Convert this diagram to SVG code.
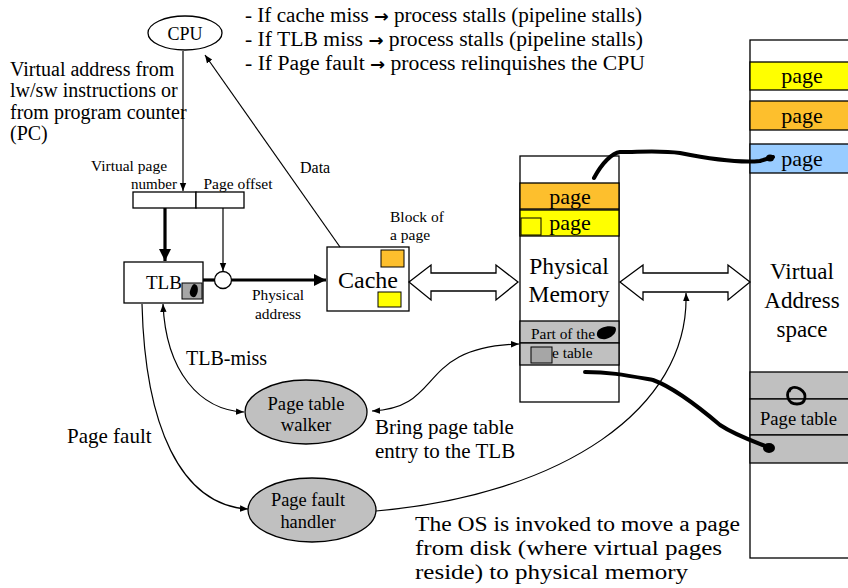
<svg xmlns="http://www.w3.org/2000/svg" width="848" height="588" viewBox="0 0 848 588">
<defs>
<style>
text{font-family:"Liberation Serif","Times New Roman",serif;fill:#000}
.ar{font-family:"DejaVu Sans",sans-serif;font-weight:bold;font-size:17px}
.box{fill:#fff;stroke:#000;stroke-width:1.3}
.ln{fill:none;stroke:#000;stroke-width:1.2}
.thick{fill:none;stroke:#000;stroke-width:3.2}
.hand{fill:none;stroke:#000;stroke-width:4;stroke-linecap:round;stroke-linejoin:round}
.gray{fill:#c0c0c0;stroke:#000;stroke-width:1.3}
.dbl{fill:#fff;stroke:#000;stroke-width:1.3}
</style>
<marker id="a" viewBox="0 0 10 10" refX="10" refY="5" markerWidth="8" markerHeight="8" orient="auto-start-reverse" markerUnits="userSpaceOnUse"><path d="M0,1 L10,5 L0,9 Z" fill="#000"/></marker>
<marker id="ab" viewBox="0 0 10 10" refX="10" refY="5" markerWidth="12" markerHeight="12" orient="auto" markerUnits="userSpaceOnUse"><path d="M0,0 L10,5 L0,10 Z" fill="#000"/></marker>
</defs>
<rect width="848" height="588" fill="#fff"/>

<g id="notes" font-size="20.5">
<text x="245" y="22" textLength="397" lengthAdjust="spacingAndGlyphs">- If cache miss <tspan class="ar">→</tspan> process stalls (pipeline stalls)</text>
<text x="245" y="46" textLength="398" lengthAdjust="spacingAndGlyphs">- If TLB miss <tspan class="ar">→</tspan> process stalls (pipeline stalls)</text>
<text x="245" y="70" textLength="400" lengthAdjust="spacingAndGlyphs">- If Page fault <tspan class="ar">→</tspan> process relinquishes the CPU</text>
</g>

<g id="va-label" font-size="20">
<text x="10" y="76">Virtual address from</text>
<text x="10" y="97">lw/sw instructions or</text>
<text x="10" y="119">from program counter</text>
<text x="10" y="140">(PC)</text>
</g>

<g id="cpu">
<ellipse cx="185" cy="33" rx="37" ry="17" class="box"/>
<text x="185" y="40" font-size="18" text-anchor="middle">CPU</text>
</g>

<g id="vaddr">
<rect x="133" y="192" width="63" height="16" class="box"/>
<rect x="196" y="192" width="48" height="16" class="box"/>
<text x="129" y="171" font-size="15.5" text-anchor="middle">Virtual page</text>
<text x="154" y="189" font-size="15" text-anchor="middle">number</text>
<text x="238" y="189" font-size="15.5" text-anchor="middle">Page offset</text>
</g>

<g id="tlb">
<rect x="124" y="262" width="79" height="41" class="box"/>
<text x="146" y="289" font-size="19">TLB</text>
<rect x="182" y="283" width="20" height="16" fill="#a6a6a6" stroke="#000" stroke-width="1"/>
<path d="M194,284 C199,284 199,293 195,297 C191,298 189,294 190,291 C191,288 192,285 194,284 Z" fill="#000"/>
</g>

<g id="mux">
<circle cx="223" cy="280" r="8.5" class="box"/>
</g>

<g id="cache">
<rect x="327" y="247" width="82" height="64" class="box"/>
<text x="368" y="288" font-size="24" text-anchor="middle">Cache</text>
<rect x="381" y="250" width="23" height="17" fill="#fdbf2d" stroke="#000" stroke-width="1"/>
<rect x="378" y="292" width="23" height="15" fill="#ffff00" stroke="#000" stroke-width="1"/>
<text x="390" y="222" font-size="15.5">Block of</text>
<text x="390" y="240" font-size="15.5">a page</text>
</g>

<g id="physmem">
<rect x="520" y="156" width="99" height="246" class="box"/>
<rect x="520" y="183" width="99" height="26" fill="#fdbf2d" stroke="#000" stroke-width="1.3"/>
<rect x="520" y="210" width="99" height="26" fill="#ffff00" stroke="#000" stroke-width="1.3"/>
<rect x="521" y="218" width="20" height="17" fill="#ffff00" stroke="#000" stroke-width="1"/>
<text x="570" y="204" font-size="22" text-anchor="middle">page</text>
<text x="570" y="230" font-size="22" text-anchor="middle">page</text>
<text x="569" y="274" font-size="23.5" text-anchor="middle">Physical</text>
<text x="569" y="302" font-size="23.5" text-anchor="middle">Memory</text>
<rect x="520" y="321" width="99" height="22" class="gray"/>
<rect x="520" y="343" width="99" height="22" class="gray"/>
<text x="531" y="339" font-size="15.4">Part of the</text>
<path d="M597,333 C598,327 609,325 615,327 C618,330 614,337 606,339 C600,340 596,337 597,333 Z" fill="#000"/>
<rect x="531" y="347" width="21" height="16" fill="#a6a6a6" stroke="#000" stroke-width="1"/>
<text x="552" y="358" font-size="15.4">e table</text>
</g>

<g id="vspace">
<rect x="750" y="40" width="110" height="518" class="box"/>
<rect x="750" y="62" width="110" height="28" fill="#ffff00" stroke="#000" stroke-width="1.3"/>
<rect x="750" y="101" width="110" height="29" fill="#fdbf2d" stroke="#000" stroke-width="1.3"/>
<rect x="750" y="144" width="110" height="29" fill="#99ccff" stroke="#000" stroke-width="1.3"/>
<text x="802" y="83" font-size="22" text-anchor="middle">page</text>
<text x="802" y="123" font-size="22" text-anchor="middle">page</text>
<text x="802" y="166" font-size="22" text-anchor="middle">page</text>
<text x="802" y="279" font-size="23" text-anchor="middle">Virtual</text>
<text x="802" y="308" font-size="23" text-anchor="middle">Address</text>
<text x="802" y="337" font-size="23" text-anchor="middle">space</text>
<rect x="750" y="372" width="110" height="27" class="gray"/>
<rect x="750" y="399" width="110" height="36" class="gray"/>
<rect x="750" y="435" width="110" height="28" class="gray"/>
<text x="760" y="425" font-size="18.6">Page table</text>
<path d="M791,388 C785,393 787,404 797,404 C806,404 808,394 800,389 C795,386 790,387 789,392" fill="none" stroke="#000" stroke-width="2.8"/>
</g>

<g id="walker">
<ellipse cx="306" cy="412" rx="61" ry="32" class="gray"/>
<text x="306" y="410" font-size="18.6" text-anchor="middle">Page table</text>
<text x="306" y="431" font-size="18.6" text-anchor="middle">walker</text>
</g>

<g id="handler">
<ellipse cx="312" cy="510" rx="64" ry="32" class="gray"/>
<text x="308" y="506" font-size="18.4" text-anchor="middle">Page fault</text>
<text x="308" y="528" font-size="18.4" text-anchor="middle">handler</text>
</g>

<g id="connectors">
<line x1="183" y1="51" x2="183" y2="191" class="ln" marker-end="url(#a)"/>
<line x1="340" y1="247" x2="205" y2="55" class="ln" marker-end="url(#a)"/>
<line x1="165" y1="208" x2="165" y2="261" class="thick" marker-end="url(#ab)"/>
<line x1="223" y1="208" x2="223" y2="271" class="ln" marker-end="url(#a)"/>
<line x1="203" y1="280" x2="214.5" y2="280" class="thick"/>
<line x1="231.5" y1="280" x2="326" y2="280" class="thick" marker-end="url(#ab)"/>
<polygon class="dbl" points="409,282 431,265 431,273 496,273 496,265 518,282 496,300 496,291 431,291 431,300"/>
<polygon class="dbl" points="620,282 643,265 643,273 728,273 728,265 750,282 728,300 728,292 643,292 643,300"/>
<path d="M163,304 C166,372 200,410 244,412" class="ln" marker-start="url(#a)" marker-end="url(#a)"/>
<path d="M142,304 C145,425 180,505 248,509" class="ln" marker-end="url(#a)"/>
<path d="M372,411 C445,408 415,347 519,344" class="ln" marker-start="url(#a)" marker-end="url(#a)"/>
<path d="M376,511 C560,495 690,410 686,293" class="ln" marker-end="url(#a)"/>
<path d="M773,157 L760,161 C740,163 705,158 680,153 C660,150 640,152 620,152 C612,153 602,163 594,178" class="hand"/>
<ellipse cx="770" cy="158" rx="4" ry="3.5" fill="#000"/>
<path d="M585,372 C610,372 625,375 653,380 C675,388 700,408 720,425 C735,435 750,440 768,447" class="hand"/>
<ellipse cx="769" cy="448" rx="6" ry="5" fill="#000"/>
</g>

<g id="labels">
<text x="300" y="173" font-size="16">Data</text>
<text x="278" y="300" font-size="15.4" text-anchor="middle">Physical</text>
<text x="278" y="319" font-size="15.4" text-anchor="middle">address</text>
<text x="186" y="365" font-size="20">TLB-miss</text>
<text x="67" y="443" font-size="21">Page fault</text>
<text x="375" y="434" font-size="21">Bring page table</text>
<text x="375" y="458" font-size="21">entry to the TLB</text>
<text x="415" y="531" font-size="20" textLength="325" lengthAdjust="spacingAndGlyphs">The OS is invoked to move a page</text>
<text x="415" y="555" font-size="20" textLength="307" lengthAdjust="spacingAndGlyphs">from disk (where virtual pages</text>
<text x="415" y="579" font-size="20" textLength="273" lengthAdjust="spacingAndGlyphs">reside) to physical memory</text>
</g>
</svg>
